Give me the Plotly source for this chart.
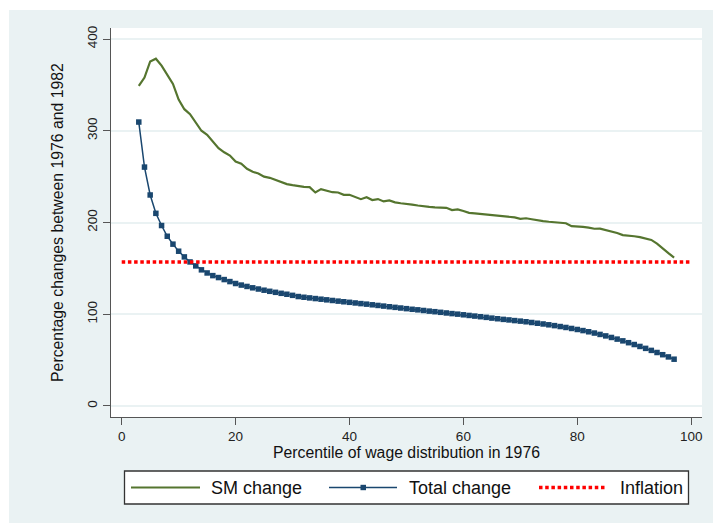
import plotly.graph_objects as go

# ---------------- data ----------------
percentile = list(range(3, 98))

sm_change = [
    349, 358, 375.5, 378.5, 371, 361, 351, 334, 323.5, 318,          # 3-12
    309.5, 300, 295.5, 288, 281, 276.5, 273, 266.5, 264, 258.5,      # 13-22
    255.3, 253.4, 250, 248.7, 246.2, 243.6, 241.8, 240.7, 239.6, 238.9,  # 23-32
    238.5, 232.7, 236.4, 234.9, 233, 232.7, 230.2, 230.2, 227.6, 225.4,  # 33-42
    227.5, 224.5, 225.5, 223, 224, 222, 221, 220.5, 219.5, 218.5,    # 43-52
    217.5, 217, 216.5, 216.3, 216, 213.5, 214.3, 212.5, 210.5, 210,  # 53-62
    209.3, 208.8, 208.2, 207.8, 207.3, 206.5, 205.5, 204, 204.6, 203.5,  # 63-72
    202.3, 201.5, 200.8, 200.2, 199.6, 199.2, 196, 195.8, 195.3, 194.5,  # 73-82
    193.2, 193.4, 191.8, 190.4, 188.6, 186.3, 186, 185, 184, 182.5,  # 83-92
    181, 177, 171.5, 166.6, 161.8,                                   # 93-97
]

total_change = [
    309.5, 260.4, 230, 210, 196.7, 185, 176.4, 168.7, 162.5, 157,    # 3-12
    152.7, 148.4, 145, 142.1, 140, 137.8, 135.6, 133.5, 131.8, 130.3,  # 13-22
    128.8, 127.5, 126.2, 125, 123.9, 122.8, 121.8, 120.6, 119.3, 118.5,  # 23-32
    117.8, 117.1, 116.4, 115.7, 115.0, 114.3, 113.6, 113.0, 112.3, 111.6,  # 33-42
    111.0, 110.3, 109.6, 108.9, 108.2, 107.5, 106.8, 106.1, 105.4, 104.8,  # 43-52
    104.1, 103.4, 102.8, 102.1, 101.4, 100.7, 100.1, 99.4, 98.7, 98.0,  # 53-62
    97.3, 96.6, 95.8, 95.1, 94.4, 93.8, 93.1, 92.5, 91.8, 91.0,      # 63-72
    90.2, 89.4, 88.5, 87.6, 86.6, 85.6, 84.5, 83.4, 82.2, 80.9,      # 73-82
    79.5, 78.0, 76.4, 74.7, 72.9, 71.0, 69.0, 67.0, 64.9, 62.8,      # 83-92
    60.6, 58.3, 55.9, 53.5, 51.0,                                    # 93-97
]

inflation_x = [0, 100]
inflation_y = [157, 157]

x_ticks = [0, 20, 40, 60, 80, 100]
y_ticks = [0, 100, 200, 300, 400]

legend_labels = ["SM change", "Total change", "Inflation"]

# ---------------- style ----------------
GREEN = "#55752f"
NAVY = "#1a476f"
RED = "#ff0000"
BG = "#eaf2f3"
AXIS = "#555555"
FONT = "Liberation Sans, Arial, sans-serif"

W, H = 713, 523
L, R, T, B = 111, 11, 28, 106
PW, PH = W - L - R, H - T - B


def px_x(p):
    return (p - L) / PW


def px_y(p):
    return (H - B - p) / PH


fig = go.Figure()

fig.add_trace(go.Scatter(
    x=percentile, y=sm_change, mode="lines", name=legend_labels[0],
    line=dict(color=GREEN, width=2.2), showlegend=False))

fig.add_trace(go.Scatter(
    x=percentile, y=total_change, mode="lines+markers", name=legend_labels[1],
    line=dict(color=NAVY, width=1.5),
    marker=dict(symbol="square", size=5.5, color=NAVY), showlegend=False))

fig.add_trace(go.Scatter(
    x=inflation_x, y=inflation_y, mode="lines", name=legend_labels[2],
    line=dict(color=RED, width=3.5, dash="3.5px,2.7px"), showlegend=False))

shapes = [
    # white strips at top/left of the image
    dict(type="rect", xref="paper", yref="paper", layer="below",
         x0=px_x(0), x1=px_x(9), y0=px_y(H), y1=px_y(0),
         fillcolor="white", line=dict(width=0)),
    dict(type="rect", xref="paper", yref="paper", layer="below",
         x0=px_x(0), x1=px_x(W), y0=px_y(10), y1=px_y(0),
         fillcolor="white", line=dict(width=0)),
    # legend box
    dict(type="rect", xref="paper", yref="paper",
         x0=px_x(124.5), x1=px_x(688.5), y0=px_y(504), y1=px_y(471),
         fillcolor="white", line=dict(color="#333333", width=1.3)),
]
ly = px_y(487.5)
shapes += [
    dict(type="line", xref="paper", yref="paper", x0=px_x(131), x1=px_x(200),
         y0=ly, y1=ly, line=dict(color=GREEN, width=2.2)),
    dict(type="line", xref="paper", yref="paper", x0=px_x(329), x1=px_x(397),
         y0=ly, y1=ly, line=dict(color=NAVY, width=1.5)),
    dict(type="rect", xref="paper", yref="paper", x0=px_x(360.5), x1=px_x(366),
         y0=px_y(490.2), y1=px_y(484.8), fillcolor=NAVY, line=dict(width=0)),
    dict(type="line", xref="paper", yref="paper", x0=px_x(539), x1=px_x(606),
         y0=ly, y1=ly, line=dict(color=RED, width=3.5, dash="3.5px,2.7px")),
]

annotations = [
    dict(xref="paper", yref="paper", x=px_x(xx), y=ly, text=t, showarrow=False,
         xanchor="left", yanchor="middle",
         font=dict(family=FONT, size=18, color="#111111"))
    for xx, t in zip([209, 407, 618], legend_labels)
]

fig.update_layout(
    width=W, height=H,
    margin=dict(l=L, r=R, t=T, b=B, autoexpand=False),
    paper_bgcolor=BG, plot_bgcolor="white",
    font=dict(family=FONT, size=13, color="#222222"),
    shapes=shapes, annotations=annotations,
    showlegend=False,
)

fig.update_xaxes(
    range=[-1.88, 101.9], tickvals=x_ticks, ticktext=[str(v) for v in x_ticks],
    showgrid=False, zeroline=False,
    showline=True, linecolor=AXIS, linewidth=1.3,
    ticks="outside", ticklen=7, tickwidth=1.3, tickcolor=AXIS,
    tickfont=dict(size=13.5, color="#222222"),
    title=dict(text="Percentile of wage distribution in 1976",
               font=dict(size=15.8, color="#111111"), standoff=2),
)

fig.update_yaxes(
    range=[-12, 412], tickvals=y_ticks, ticktext=[str(v) for v in y_ticks],
    showgrid=True, gridcolor=BG, gridwidth=1.5, zeroline=False,
    showline=True, linecolor=AXIS, linewidth=1.3,
    ticks="outside", ticklen=7, tickwidth=1.3, tickcolor=AXIS,
    tickangle=-90, tickfont=dict(size=13.5, color="#222222"),
    title=dict(text="Percentage changes between 1976 and 1982",
               font=dict(size=15.8, color="#111111"), standoff=17),
)

fig.write_html("out.html")
